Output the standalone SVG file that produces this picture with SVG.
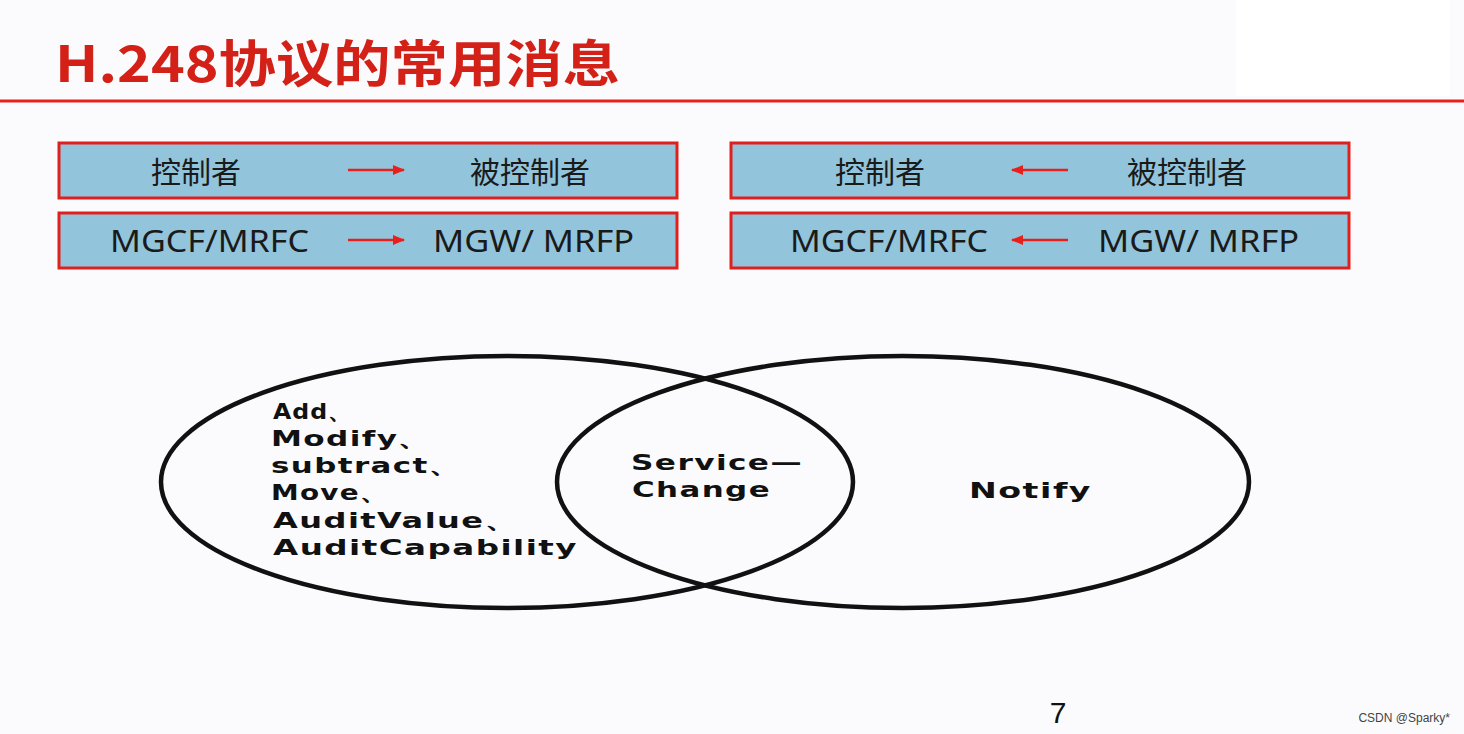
<svg xmlns="http://www.w3.org/2000/svg" width="1464" height="734" viewBox="0 0 1464 734">
<style>
.box{fill:#92c5dc;stroke:#e0201c;stroke-width:3}
.t{font-family:"Noto Sans CJK SC","Noto Sans",sans-serif;font-size:30px;fill:#1a1a1a;text-anchor:middle}
.m{font-family:"Noto Sans","Liberation Sans",sans-serif;font-size:30px;fill:#1a1a1a}
.e{fill:none;stroke:#111;stroke-width:4.5}
.v{font-family:"DejaVu Sans","Liberation Sans",sans-serif;font-weight:bold;font-size:22px;fill:#111;letter-spacing:1px}
.arr{stroke:#e8201c;stroke-width:2.5;fill:none}
</style>
<defs>
<marker id="ah" viewBox="0 0 10 10" refX="9" refY="5" markerWidth="5" markerHeight="5" orient="auto-start-reverse"><path d="M0,1 L10,5 L0,9 z" fill="#e8201c"/></marker>
</defs>
<rect width="1464" height="734" fill="#fbfbfd"/>
<rect x="1236" y="0" width="214" height="96" fill="#fff"/>
<text x="55" y="82" font-family="Noto Sans CJK SC,sans-serif" font-weight="bold" font-size="50" fill="#d42118" textLength="565" lengthAdjust="spacingAndGlyphs">H.248协议的常用消息</text>
<line x1="0" y1="101" x2="1464" y2="101" stroke="#e8201c" stroke-width="3"/>
<g id="box1"><rect class="box" x="59" y="143" width="618" height="55"/><text class="t" x="196" y="183">控制者</text><text class="t" x="530" y="183">被控制者</text></g>
<g id="box2"><rect class="box" x="59" y="213" width="618" height="55"/><text class="m" x="110" y="252" textLength="199" lengthAdjust="spacingAndGlyphs">MGCF/MRFC</text><text class="m" x="433" y="252" textLength="201" lengthAdjust="spacingAndGlyphs">MGW/ MRFP</text></g>
<g id="box3"><rect class="box" x="731" y="143" width="618" height="55"/><text class="t" x="880" y="183">控制者</text><text class="t" x="1187" y="183">被控制者</text></g>
<g id="box4"><rect class="box" x="731" y="213" width="618" height="55"/><text class="m" x="790" y="252" textLength="198" lengthAdjust="spacingAndGlyphs">MGCF/MRFC</text><text class="m" x="1098" y="252" textLength="201" lengthAdjust="spacingAndGlyphs">MGW/ MRFP</text></g>
<g id="connectors">
<line class="arr" x1="348" y1="170" x2="404" y2="170" marker-end="url(#ah)"/>
<line class="arr" x1="348" y1="240" x2="404" y2="240" marker-end="url(#ah)"/>
<line class="arr" x1="1068" y1="170" x2="1012" y2="170" marker-end="url(#ah)"/>
<line class="arr" x1="1068" y1="240" x2="1012" y2="240" marker-end="url(#ah)"/>
</g>
<g id="set-left"><ellipse class="e" cx="507" cy="482" rx="346" ry="126"/>
<text class="v" x="273" y="419" textLength="80" lengthAdjust="spacingAndGlyphs">Add、</text>
<text class="v" x="271" y="446" textLength="160" lengthAdjust="spacingAndGlyphs">Modify、</text>
<text class="v" x="271" y="473" textLength="190" lengthAdjust="spacingAndGlyphs">subtract、</text>
<text class="v" x="271" y="500" textLength="118" lengthAdjust="spacingAndGlyphs">Move、</text>
<text class="v" x="273" y="528" textLength="245" lengthAdjust="spacingAndGlyphs">AuditValue、</text>
<text class="v" x="273" y="555" textLength="305" lengthAdjust="spacingAndGlyphs">AuditCapability</text></g>
<g id="set-right"><ellipse class="e" cx="903" cy="482" rx="346" ry="126"/>
<text class="v" x="969" y="498" textLength="123" lengthAdjust="spacingAndGlyphs">Notify</text></g>
<g id="intersection"><text class="v" x="631" y="470" textLength="172" lengthAdjust="spacingAndGlyphs">Service—</text><text class="v" x="632" y="497" textLength="139" lengthAdjust="spacingAndGlyphs">Change</text></g>
<text x="1058" y="723" font-family="Liberation Sans,sans-serif" font-size="30" fill="#111" text-anchor="middle">7</text>
<text x="1450" y="722" font-family="Liberation Sans,sans-serif" font-size="12" fill="#444" text-anchor="end">CSDN @Sparky*</text>
</svg>
